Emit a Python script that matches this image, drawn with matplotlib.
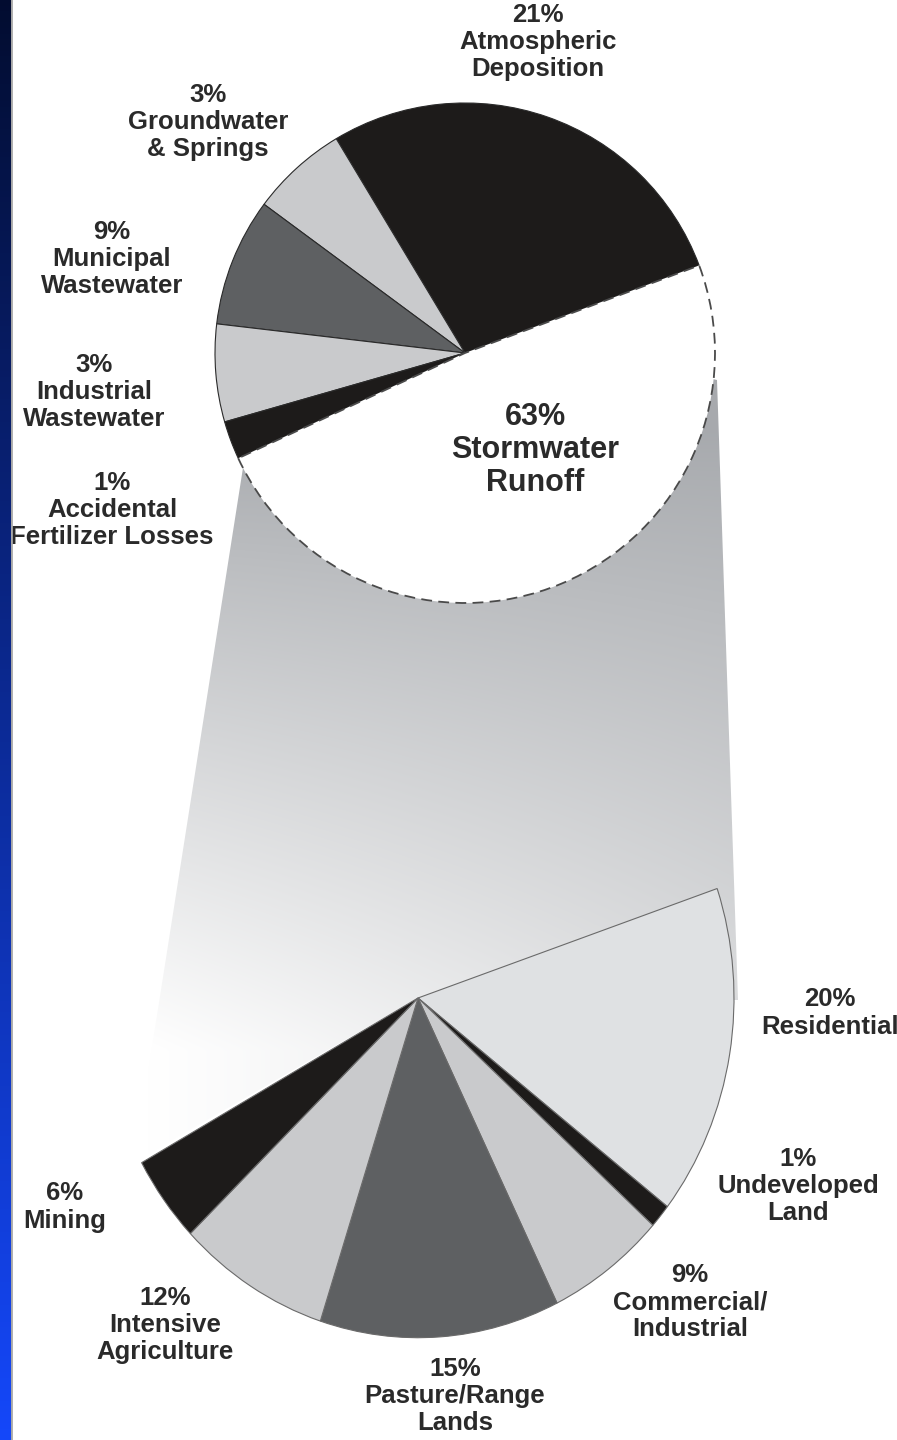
import numpy as np
import matplotlib.pyplot as plt
from matplotlib.patches import Polygon

W, H = 897, 1440

# nitrogen sources (top pie); slice angles, in degrees
top_names = ['Atmospheric\nDeposition', 'Groundwater\n& Springs',
             'Municipal\nWastewater', 'Industrial\nWastewater',
             'Accidental\nFertilizer Losses', 'Stormwater\nRunoff']
top_pct = [21, 3, 9, 3, 1, 63]
top_deg = [100.5, 22.5, 29.8, 22.7, 8.9, 175.6]

# stormwater runoff broken down by land use (bottom pie)
bot_names = ['Residential', 'Undeveloped\nLand', 'Commercial/\nIndustrial',
             'Pasture/Range\nLands', 'Intensive\nAgriculture', 'Mining']
bot_pct = [20, 1, 9, 15, 12, 6]
bot_deg = [56.7, 4.1, 21.9, 44.1, 28.1, 14.9]

BLACK = '#1d1b1a'
LGRAY = '#c9cacc'
DGRAY = '#5e6062'
top_colors = [BLACK, LGRAY, DGRAY, LGRAY, BLACK, 'white']
bot_colors = ['#dfe1e3', BLACK, LGRAY, DGRAY, LGRAY, BLACK]

plt.rcParams['font.family'] = ['Liberation Sans', 'DejaVu Sans']

fig = plt.figure(figsize=(W / 100, H / 100), dpi=100)
fig.patch.set_facecolor('white')
ax = fig.add_axes([0, 0, 1, 1])


def py(y):
    # pixel row (from top) -> data y
    return H - y


# grey funnel joining the two pies
gx, gy = np.meshgrid(np.arange(0, W, 3) + 1.5, np.arange(0, H, 3) + 1.5)
t = np.clip((gy - 430) / 620, 0, 1) * (1 - 0.4 * np.clip((gx - 150) / 590, 0, 1))
t = t ** 0.9
dark = np.array([0.655, 0.665, 0.68])
img = dark[None, None, :] + t[..., None] * (1 - dark[None, None, :])
band = Polygon([(245, py(455)), (500, py(330)), (717, py(380)), (738, py(1000)),
                (418, py(998)), (134, py(1162))], closed=True,
               facecolor='none', edgecolor='none')
ax.add_patch(band)
im = ax.imshow(img, extent=(0, W, 0, H), origin='upper', aspect='auto',
               zorder=1, interpolation='bilinear')
im.set_clip_path(band)

# top pie
wedges, _ = ax.pie(top_deg, colors=top_colors, startangle=20.5,
                   counterclock=True, center=(465, py(353)), radius=250,
                   frame=True,
                   wedgeprops=dict(edgecolor='#2a2a2a', linewidth=0.8, zorder=2))
wedges[-1].set_linestyle((0, (6, 3.5)))
wedges[-1].set_edgecolor('#4a4a4a')
wedges[-1].set_linewidth(1.3)
ax.set_aspect('auto')
ax.set_xlim(0, W)
ax.set_ylim(0, H)
ax.axis('off')

# bottom pie, a little taller than wide
sy = 1.075
ax2 = fig.add_axes([0, 0, 1, 1])
gap = 360 - sum(bot_deg)
bw, _ = ax2.pie(bot_deg + [gap], colors=bot_colors + ['none'], startangle=18.8,
                counterclock=False, center=(418, py(998) / sy), radius=316,
                frame=True,
                wedgeprops=dict(edgecolor='#6a6a6a', linewidth=0.8))
bw[-1].set_edgecolor('none')
ax2.set_aspect('auto')
ax2.set_xlim(0, W)
ax2.set_ylim(0, H / sy)
ax2.axis('off')
ax2.patch.set_visible(False)

# labels
lab = dict(ha='center', va='center', fontsize=18.5, fontweight='bold',
           color='#2a2a2a', linespacing=1.16, zorder=5)
top_pos = [(538, 42), (208, 122), (112, 259), (94, 392), (112, 510)]
for (x, y), p, n in zip(top_pos, top_pct, top_names):
    ax.text(x, py(y), f'{p}%\n{n}', **lab)
ax.text(535, py(450), f'{top_pct[-1]}%\n{top_names[-1]}', ha='center',
        va='center', fontsize=22, fontweight='bold', color='#2a2a2a',
        linespacing=1.11, zorder=5)

bot_pos = [(830, 1013), (798, 1186), (690, 1302), (455, 1396), (165, 1325), (65, 1207)]
for (x, y), p, n in zip(bot_pos, bot_pct, bot_names):
    ax.text(x, py(y), f'{p}%\n{n}', **lab)

# blue strip on the left edge
axs = fig.add_axes([0, 0, 10 / W, 1])
strip = np.linspace(0, 1, 256)[:, None, None]
top_c = np.array([0.01, 0.05, 0.19])
bot_c = np.array([0.08, 0.28, 0.98])
axs.imshow(top_c + strip * (bot_c - top_c), aspect='auto', extent=(0, 1, 0, 1))
axs.axis('off')
ax.plot([11, 11], [0, H], color='#a8a8a8', lw=2, zorder=6)

fig.savefig('out.png', dpi=100)
